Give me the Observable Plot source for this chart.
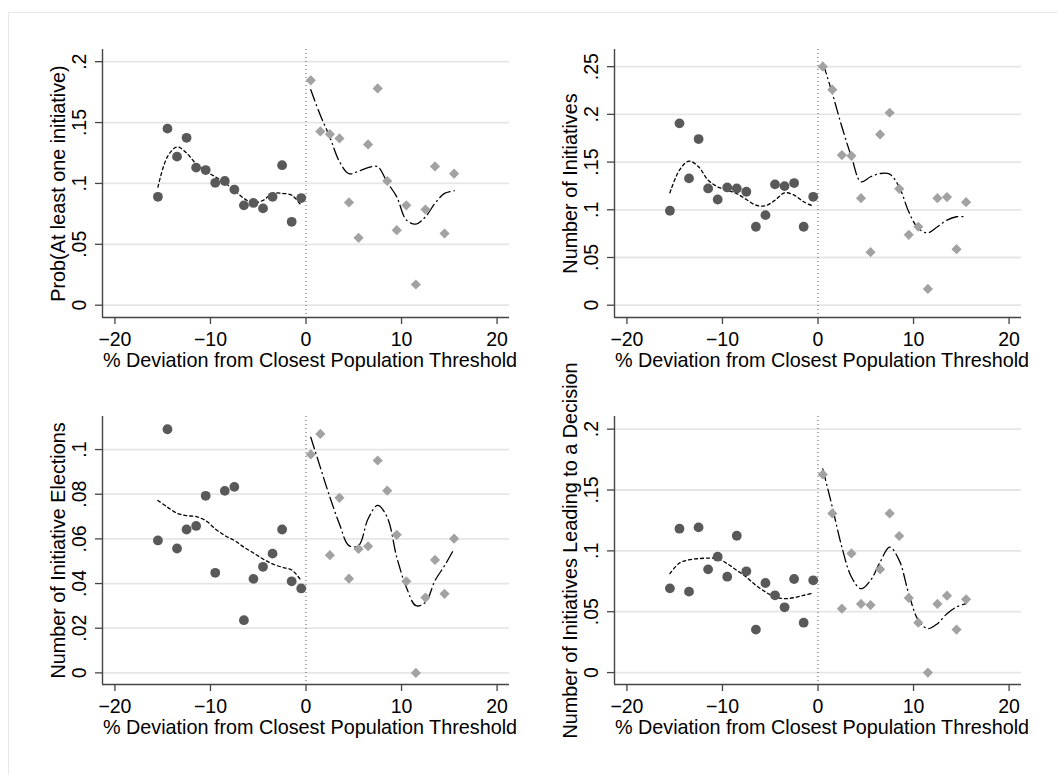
<!DOCTYPE html>
<html>
<head>
<meta charset="utf-8">
<script src="https://cdn.jsdelivr.net/npm/d3@7"></script>
<script src="https://cdn.jsdelivr.net/npm/@observablehq/plot@0.6"></script>
<style>
  body { margin: 0; background: #fff; }
  #frame { position: relative; width: 1057px; height: 775px; overflow: hidden; background: #fff; }
  #border { position: absolute; left: 8px; top: 12px; width: 1100px; height: 900px; border: 1.5px solid #e8e8e8; box-sizing: border-box; }
  .panel { position: absolute; }
</style>
</head>
<body>
<div id="frame"><div id="border"></div></div>
<script>
// Bin centres (% deviation from the closest population threshold)
const binsBelow = [-15.5, -14.5, -13.5, -12.5, -11.5, -10.5, -9.5, -8.5, -7.5, -6.5, -5.5, -4.5, -3.5, -2.5, -1.5, -0.5];
const binsAbove = [0.5, 1.5, 2.5, 3.5, 4.5, 5.5, 6.5, 7.5, 8.5, 9.5, 10.5, 11.5, 12.5, 13.5, 14.5, 15.5];

const xTicks = [-20, -10, 0, 10, 20];
const xTitle = "% Deviation from Closest Population Threshold";

// Prob(At least one initiative)
const probBelow    = [0.089, 0.145, 0.122, 0.1375, 0.113, 0.111, 0.1005, 0.102, 0.095, 0.082, 0.084, 0.0795, 0.089, 0.115, 0.0685, 0.088];
const probAbove    = [0.1847, 0.1427, 0.1405, 0.137, 0.0844, 0.0553, 0.132, 0.178, 0.102, 0.0616, 0.082, 0.017, 0.0786, 0.114, 0.0589, 0.108];
const probFitBelow = [0.097, 0.122, 0.130, 0.125, 0.116, 0.110, 0.1055, 0.1005, 0.0945, 0.0877, 0.084, 0.086, 0.0918, 0.0918, 0.0904, 0.082];
const probFitAbove = [0.177, 0.156, 0.138, 0.118, 0.108, 0.110, 0.113, 0.1137, 0.101, 0.089, 0.070, 0.0666, 0.0726, 0.0836, 0.0918, 0.094];
const probTicks    = [0, 0.05, 0.1, 0.15, 0.2];

// Number of Initiatives
const numBelow    = [0.099, 0.1906, 0.1329, 0.1741, 0.1224, 0.1108, 0.1234, 0.1224, 0.1189, 0.0822, 0.0944, 0.1266, 0.1248, 0.128, 0.0822, 0.1136];
const numAbove    = [0.25, 0.2259, 0.1573, 0.1566, 0.1122, 0.0556, 0.179, 0.2017, 0.122, 0.0738, 0.0822, 0.0171, 0.1122, 0.1133, 0.0587, 0.108];
const numFitBelow = [0.1178, 0.1416, 0.151, 0.145, 0.131, 0.124, 0.1206, 0.117, 0.1108, 0.1049, 0.1042, 0.110, 0.1178, 0.1154, 0.1084, 0.1038];
const numFitAbove = [0.2545, 0.222, 0.187, 0.1556, 0.1294, 0.1346, 0.138, 0.1374, 0.124, 0.0979, 0.0804, 0.0759, 0.0822, 0.0892, 0.0927, 0.0927];
const numTicks    = [0, 0.05, 0.1, 0.15, 0.2, 0.25];

// Number of Initiative Elections
const elecBelow    = [0.0593, 0.1091, 0.0557, 0.0642, 0.0658, 0.0793, 0.0448, 0.0815, 0.0833, 0.0236, 0.0421, 0.0475, 0.0534, 0.0642, 0.041, 0.0378];
const elecAbove    = [0.0978, 0.107, 0.0527, 0.0784, 0.0422, 0.0555, 0.0567, 0.0951, 0.0816, 0.0618, 0.041, 0, 0.0337, 0.0506, 0.0354, 0.0601];
const elecFitBelow = [0.0772, 0.0742, 0.0715, 0.0704, 0.070, 0.0682, 0.0645, 0.0615, 0.0593, 0.0563, 0.0537, 0.051, 0.0488, 0.0473, 0.0461, 0.0413];
const elecFitAbove = [0.1055, 0.092, 0.0787, 0.0667, 0.057, 0.057, 0.069, 0.075, 0.0697, 0.0518, 0.0384, 0.0301, 0.0316, 0.0413, 0.048, 0.0555];
const elecTicks    = [0, 0.02, 0.04, 0.06, 0.08, 0.1];

// Number of Initiatives Leading to a Decision
const decBelow    = [0.0692, 0.1182, 0.0665, 0.1193, 0.0848, 0.0952, 0.0788, 0.1124, 0.0832, 0.0353, 0.0736, 0.0635, 0.0536, 0.0769, 0.041, 0.0758];
const decAbove    = [0.1628, 0.1308, 0.0525, 0.0979, 0.0564, 0.0555, 0.0848, 0.1308, 0.1122, 0.0613, 0.041, 0, 0.0564, 0.0632, 0.0353, 0.0602];
const decFitBelow = [0.0813, 0.090, 0.0927, 0.0936, 0.0941, 0.0936, 0.0895, 0.084, 0.0785, 0.0717, 0.0662, 0.0621, 0.0607, 0.0616, 0.0635, 0.0654];
const decFitAbove = [0.1674, 0.136, 0.1031, 0.0785, 0.0689, 0.0758, 0.0908, 0.1031, 0.0922, 0.0648, 0.043, 0.0361, 0.0402, 0.0484, 0.0539, 0.0566];
const decTicks    = [0, 0.05, 0.1, 0.15, 0.2];

const FONT = "'Liberation Sans', Arial, Helvetica, sans-serif";
const AXIS = "#444";
const zip = (xs, ys) => xs.map((x, i) => ({x, y: ys[i]}));
const fmtY = d => d === 0 ? "0" : String(d).replace(/^0/, "");
const fmtX = d => d < 0 ? "\u2212" + Math.abs(d) : String(d);

function panel({title, below, above, fitBelow, fitAbove, yDomain, yTicks, left, top, height, marginTop, marginBottom}) {
  const xDomain = [-21.3, 21.3];
  const chart = Plot.plot({
    width: 528,
    height,
    marginLeft: 102,
    marginRight: 19,
    marginTop,
    marginBottom,
    style: {fontFamily: FONT, fontSize: "19px", color: "#000", background: "transparent", overflow: "visible"},
    x: {domain: xDomain},
    y: {domain: yDomain},
    marks: [
      Plot.gridY(yTicks, {stroke: "#e6e6e6", strokeOpacity: 1, strokeWidth: 1.8}),
      Plot.ruleX([0], {stroke: "#555", strokeWidth: 1, strokeDasharray: "1,3"}),
      Plot.line(zip(binsBelow, fitBelow), {x: "x", y: "y", curve: "catmull-rom", stroke: "#000", strokeWidth: 1.3, strokeDasharray: "3,3"}),
      Plot.line(zip(binsAbove, fitAbove), {x: "x", y: "y", curve: "catmull-rom", stroke: "#000", strokeWidth: 1.3, strokeDasharray: "12,4,1,4"}),
      Plot.dot(zip(binsBelow, below), {x: "x", y: "y", r: 4.9, symbol: "circle", fill: "#595959", stroke: "none"}),
      Plot.dot(zip(binsAbove, above), {x: "x", y: "y", r: 4.6, symbol: "diamond2", fill: "#a2a2a2", stroke: "none"}),
      Plot.ruleY([yDomain[0]], {stroke: AXIS, strokeWidth: 1.4}),
      Plot.ruleX([xDomain[0]], {stroke: AXIS, strokeWidth: 1.4}),
      Plot.axisX({ticks: xTicks, tickFormat: fmtX, tickSize: 7, tickPadding: 8, stroke: AXIS, strokeWidth: 1.3, label: null, fontSize: 19.5}),
      Plot.axisY({ticks: yTicks, tickFormat: fmtY, tickSize: 7, tickPadding: 10, tickRotate: -90, stroke: AXIS, strokeWidth: 1.3, label: null, fontSize: 19.5}),
      Plot.text([xTitle], {frameAnchor: "bottom", textAnchor: "middle", lineAnchor: "bottom", dx: 4, dy: 49, fontSize: 19.8, fill: "#000"}),
      Plot.text([title], {frameAnchor: "left", textAnchor: "middle", lineAnchor: "bottom", rotate: -90, dx: -38, fontSize: 19.8, fill: "#000"})
    ]
  });
  chart.classList.add("panel");
  chart.style.left = left + "px";
  chart.style.top = top + "px";
  document.getElementById("frame").appendChild(chart);
}

panel({title: "Prob(At least one initiative)", below: probBelow, above: probAbove, fitBelow: probFitBelow, fitAbove: probFitAbove,
       yDomain: [-0.0101, 0.210], yTicks: probTicks, left: 0, top: 0, height: 380, marginTop: 49, marginBottom: 63});
panel({title: "Number of Initiatives", below: numBelow, above: numAbove, fitBelow: numFitBelow, fitAbove: numFitAbove,
       yDomain: [-0.0129, 0.268], yTicks: numTicks, left: 512, top: 0, height: 380, marginTop: 49, marginBottom: 63});
panel({title: "Number of Initiative Elections", below: elecBelow, above: elecAbove, fitBelow: elecFitBelow, fitAbove: elecFitAbove,
       yDomain: [-0.0052, 0.1148], yTicks: elecTicks, left: 0, top: 380, height: 395, marginTop: 36, marginBottom: 91});
panel({title: "Number of Initiatives Leading to a Decision", below: decBelow, above: decAbove, fitBelow: decFitBelow, fitAbove: decFitAbove,
       yDomain: [-0.0098, 0.2104], yTicks: decTicks, left: 512, top: 380, height: 395, marginTop: 36, marginBottom: 91});
</script>
</body>
</html>
